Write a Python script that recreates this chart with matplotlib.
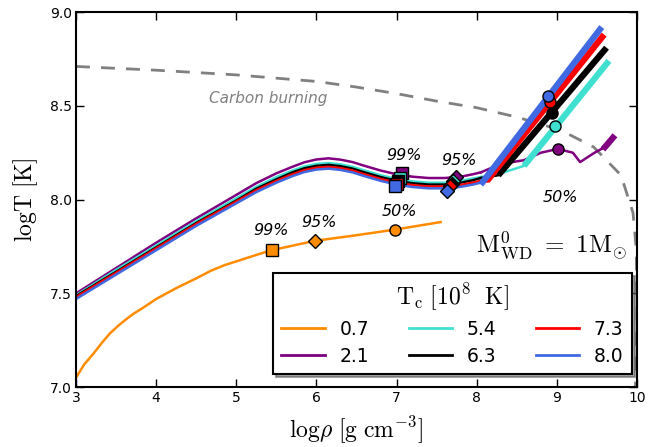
import matplotlib
matplotlib.use('Agg')
import matplotlib.pyplot as plt

plt.rcParams['mathtext.fontset'] = 'cm'
plt.rcParams['font.family'] = 'DejaVu Sans'

# main tracks (low density part), shared density grid
rho_main = [3.0, 3.5, 4.0, 4.5, 5.0, 5.25, 5.5, 5.7, 5.85, 6.0, 6.15, 6.3, 6.45, 6.6, 6.8, 7.0, 7.2, 7.4, 7.6, 7.8, 7.95, 8.05]
T_purple = [7.50, 7.635, 7.77, 7.90, 8.025, 8.088, 8.14, 8.175, 8.199, 8.214, 8.22, 8.213, 8.20, 8.18, 8.155, 8.135, 8.122, 8.115, 8.115, 8.122, 8.135, 8.145]
T_teal = [7.49, 7.625, 7.755, 7.885, 8.007, 8.068, 8.12, 8.155, 8.177, 8.19, 8.195, 8.188, 8.175, 8.155, 8.13, 8.11, 8.097, 8.09, 8.09, 8.10, 8.112, 8.12]
T_black = [7.485, 7.615, 7.745, 7.875, 7.995, 8.058, 8.108, 8.145, 8.167, 8.18, 8.185, 8.178, 8.165, 8.145, 8.12, 8.10, 8.087, 8.08, 8.08, 8.09, 8.103, 8.115]
T_red = [7.48, 7.61, 7.74, 7.87, 7.99, 8.05, 8.10, 8.135, 8.157, 8.17, 8.175, 8.168, 8.155, 8.135, 8.11, 8.09, 8.077, 8.07, 8.07, 8.078, 8.09, 8.10]
T_blue = [7.47, 7.60, 7.73, 7.86, 7.98, 8.04, 8.09, 8.125, 8.147, 8.16, 8.165, 8.158, 8.145, 8.125, 8.10, 8.08, 8.067, 8.06, 8.06, 8.068, 8.08, 8.09]

# thin continuation at higher density
rho_purple_ext = [8.05, 8.3, 8.59, 8.8, 9.01, 9.2, 9.29, 9.47, 9.6]
T_purple_ext = [8.145, 8.19, 8.21, 8.25, 8.27, 8.25, 8.20, 8.25, 8.28]
rho_teal_ext = [8.05, 8.3, 8.59]
T_teal_ext = [8.12, 8.14, 8.18]
rho_black_ext = [8.05, 8.27]
T_black_ext = [8.115, 8.13]
rho_red_ext = [8.05, 8.13]
T_red_ext = [8.10, 8.10]

# thick (late) segments
rho_thick = {'teal': [8.59, 9.65], 'black': [8.27, 9.62], 'red': [8.13, 9.59], 'blue': [8.05, 9.56]}
T_thick = {'teal': [8.18, 8.74], 'black': [8.13, 8.81], 'red': [8.10, 8.88], 'blue': [8.08, 8.92]}
rho_purple_end = [9.6, 9.7]
T_purple_end = [8.28, 8.33]

# orange (0.7) track
rho_orange = [3.0, 3.1, 3.22, 3.32, 3.42, 3.52, 3.62, 3.72, 3.84, 4.0, 4.26, 4.5, 4.68, 4.85, 5.09, 5.25, 5.44, 5.98, 6.5, 6.98, 7.55]
T_orange = [7.05, 7.12, 7.18, 7.235, 7.285, 7.325, 7.36, 7.392, 7.424, 7.47, 7.53, 7.58, 7.62, 7.65, 7.683, 7.705, 7.73, 7.78, 7.81, 7.84, 7.88]

# marker positions: 99% (square), 95% (diamond), 50% (circle)
sq_rho = {'orange': 5.44, 'purple': 7.07, 'teal': 7.04, 'black': 7.02, 'red': 7.0, 'blue': 6.98}
sq_T = {'orange': 7.73, 'purple': 8.14, 'teal': 8.115, 'black': 8.10, 'red': 8.085, 'blue': 8.07}
di_rho = {'orange': 5.98, 'purple': 7.74, 'teal': 7.71, 'black': 7.69, 'red': 7.67, 'blue': 7.63}
di_T = {'orange': 7.78, 'purple': 8.12, 'teal': 8.10, 'black': 8.085, 'red': 8.07, 'blue': 8.045}
ci_rho = {'orange': 6.98, 'purple': 9.01, 'teal': 8.98, 'black': 8.94, 'red': 8.92, 'blue': 8.89}
ci_T = {'orange': 7.84, 'purple': 8.27, 'teal': 8.39, 'black': 8.46, 'red': 8.52, 'blue': 8.55}

# carbon burning line
rho_cb = [3.0, 4.0, 5.0, 6.0, 6.5, 7.0, 7.5, 8.0, 8.5, 9.05, 9.46, 9.8, 9.95, 9.99, 10.0, 9.99, 9.98]
T_cb = [8.71, 8.69, 8.665, 8.63, 8.60, 8.565, 8.525, 8.49, 8.44, 8.37, 8.28, 8.13, 7.93, 7.74, 7.4, 7.11, 7.0]

labels = ['0.7', '2.1', '5.4', '6.3', '7.3', '8.0']
colors = {'orange': 'darkorange', 'purple': 'purple', 'teal': 'turquoise',
          'black': 'black', 'red': 'red', 'blue': 'royalblue'}

fig = plt.figure(figsize=(6.5, 4.47), dpi=100)
ax = fig.add_axes([0.117, 0.134, 0.863, 0.839])

ax.plot(rho_cb, T_cb, '--', color='gray', lw=2, dashes=(5, 4))
ax.text(5.4, 8.54, 'Carbon burning', color='gray', style='italic', fontsize=11, ha='center', va='center')

ax.plot(rho_orange, T_orange, color=colors['orange'], lw=1.8, label=labels[0])
ax.plot(rho_main, T_purple, color=colors['purple'], lw=1.8, label=labels[1])
ax.plot(rho_purple_ext, T_purple_ext, color=colors['purple'], lw=1.8)
ax.plot(rho_purple_end, T_purple_end, color=colors['purple'], lw=4.5)
ax.plot(rho_main, T_teal, color=colors['teal'], lw=1.8, label=labels[2])
ax.plot(rho_teal_ext, T_teal_ext, color=colors['teal'], lw=1.8)
ax.plot(rho_main, T_black, color=colors['black'], lw=1.8, label=labels[3])
ax.plot(rho_black_ext, T_black_ext, color=colors['black'], lw=1.8)
ax.plot(rho_main, T_red, color=colors['red'], lw=1.8, label=labels[4])
ax.plot(rho_red_ext, T_red_ext, color=colors['red'], lw=1.8)
ax.plot(rho_main, T_blue, color=colors['blue'], lw=1.8, label=labels[5])

for k in ['teal', 'black', 'red', 'blue']:
    ax.plot(rho_thick[k], T_thick[k], color=colors[k], lw=4.5, solid_capstyle='butt')

for k in ['orange', 'purple', 'teal', 'black', 'red', 'blue']:
    c = colors[k]
    ax.plot(sq_rho[k], sq_T[k], 's', color=c, mec='black', ms=8, mew=1)
    ax.plot(di_rho[k], di_T[k], 'D', color=c, mec='black', ms=7.5, mew=1)
    ax.plot(ci_rho[k], ci_T[k], 'o', color=c, mec='black', ms=8, mew=1)

pct = dict(fontsize=11.5, style='italic', ha='center', va='center')
ax.text(7.09, 8.235, '99%', **pct)
ax.text(7.78, 8.21, '95%', **pct)
ax.text(9.05, 8.01, '50%', **pct)
ax.text(5.43, 7.835, '99%', **pct)
ax.text(6.03, 7.88, '95%', **pct)
ax.text(7.03, 7.935, '50%', **pct)

ax.text(9.87, 7.72, r'$\mathrm{M_{WD}^{0}\ =\ 1M_{\odot}}$', fontsize=18, ha='right', va='baseline')

ax.set_xlim(3, 10)
ax.set_ylim(7.0, 9.0)
ax.set_xticks(range(3, 11))
ax.set_yticks([7.0, 7.5, 8.0, 8.5, 9.0])
ax.set_yticklabels(['7.0', '7.5', '8.0', '8.5', '9.0'])
ax.tick_params(direction='in', top=True, right=True, labelsize=10, length=6, width=1, pad=3)
for s in ax.spines.values():
    s.set_linewidth(1.5)

ax.set_xlabel(r'$\mathrm{log}\rho\ [\mathrm{g\ cm^{-3}}]$', fontsize=17, labelpad=7)
ax.set_ylabel(r'$\mathrm{logT\ [K]}$', fontsize=17, labelpad=7)

leg = ax.legend(ncol=3, loc='lower right', bbox_to_anchor=(0.991, 0.035), borderaxespad=0,
                title=r'$\mathrm{T_c\ [10^8\ \ K]}$', fontsize=13.5, title_fontsize=17,
                handlelength=2.3, handletextpad=0.8, columnspacing=2.1, shadow=True,
                fancybox=False, framealpha=1, labelspacing=0.4, borderpad=0.45)
leg.get_frame().set_edgecolor('black')
leg.get_frame().set_linewidth(1.5)
for h in leg.get_lines():
    h.set_linewidth(2)

fig.savefig('out.png', dpi=100)
